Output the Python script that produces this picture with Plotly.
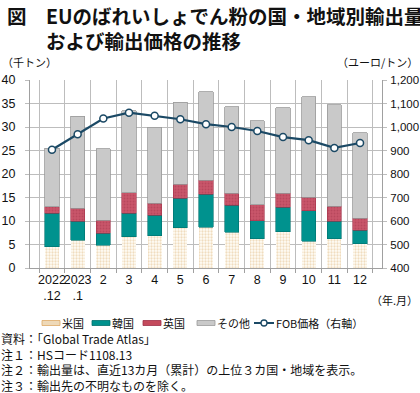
import plotly.graph_objects as go

categories = ["2022<br>.12", "2023<br>.1", "2", "3", "4", "5", "6", "7", "8", "9", "10", "11", "12"]
us = [4.5, 5.9, 4.8, 6.6, 6.9, 8.6, 8.7, 7.6, 6.2, 7.7, 5.7, 6.2, 5.2]
korea = [7.2, 4.0, 2.6, 5.0, 4.3, 6.2, 7.0, 5.8, 3.9, 5.2, 6.5, 3.8, 2.8]
uk = [1.3, 2.8, 2.8, 4.4, 2.6, 3.0, 3.0, 2.5, 3.4, 3.0, 2.9, 3.1, 2.6]
other = [12.5, 19.6, 15.2, 17.5, 16.2, 17.5, 18.8, 18.4, 17.8, 18.2, 21.3, 21.6, 18.2]
fob = [903, 969, 1036, 1061, 1048, 1033, 1012, 1000, 983, 957, 944, 911, 932]

title_lines = ["図　EUのばれいしょでん粉の国・地域別輸出量", "　　および輸出価格の推移"]
footnotes = [
    "資料：「Global Trade Atlas」",
    "注１：HSコード1108.13",
    "注２：輸出量は、直近13カ月（累計）の上位３カ国・地域を表示。",
    "注３：輸出先の不明なものを除く。",
]

FONT = "Liberation Sans, Noto Sans CJK JP, Arial, sans-serif"
JFONT = "Noto Sans CJK JP, Liberation Sans, sans-serif"

W, H = 420, 393
L, R, T, B = 30, 38, 80, 125
GRID = "#BDBDBD"

fig = go.Figure()
fig.add_trace(go.Bar(x=categories, y=us, name="米国",
                     marker=dict(color="white", line=dict(width=0),
                                 pattern=dict(shape=".", fgcolor="#E2BC86", bgcolor="#FFFDF8",
                                              size=3, solidity=0.45))))
fig.add_trace(go.Bar(x=categories, y=korea, name="韓国",
                     marker=dict(color="#00928E", line=dict(color="#00706C", width=0.6))))
fig.add_trace(go.Bar(x=categories, y=uk, name="英国",
                     marker=dict(color="#C44A5C", line=dict(color="#A03048", width=0.6),
                                 pattern=dict(shape=".", fgcolor="#A83A50", bgcolor="#C9566A",
                                              size=3, solidity=0.3))))
fig.add_trace(go.Bar(x=categories, y=other, name="その他",
                     marker=dict(color="#C9C9C9", line=dict(color="#9A9A9A", width=0.8))))
fig.add_trace(go.Scatter(x=categories, y=fob, name="FOB価格（右軸）", yaxis="y2",
                         mode="lines+markers",
                         line=dict(color="#1B4965", width=2.2),
                         marker=dict(symbol="circle", size=7, color="white",
                                     line=dict(color="#1B4965", width=1.5))))

fig.update_layout(
    width=W, height=H,
    margin=dict(l=L, r=R, t=T, b=B, pad=0, autoexpand=False),
    paper_bgcolor="white", plot_bgcolor="white",
    barmode="stack", bargap=0.45,
    showlegend=False,
    font=dict(family=FONT, size=12, color="#222222"),
    xaxis=dict(type="category", tickson="boundaries", showgrid=True, gridcolor=GRID,
               gridwidth=1, showline=True, linecolor="#A0A0A0", ticks="outside",
               ticklen=4, tickcolor="#A0A0A0", tickfont=dict(size=12.5, color="#111111"),
               tickangle=0, fixedrange=True, automargin=False),
    yaxis=dict(range=[0, 40], dtick=5, showgrid=True, gridcolor=GRID, gridwidth=1,
               showline=True, linecolor="#A0A0A0", ticks="outside", ticklen=4,
               tickcolor=GRID, tickfont=dict(size=12.5, color="#111111"),
               ticklabelstandoff=7,
               zeroline=False, fixedrange=True, automargin=False),
    yaxis2=dict(range=[400, 1200], dtick=100, overlaying="y", side="right",
                showgrid=False, showline=True, linecolor="#A0A0A0", ticks="outside",
                ticklen=4, tickcolor=GRID, tickformat=",", ticklabelstandoff=1,
                tickfont=dict(size=11.5, color="#111111"), zeroline=False, fixedrange=True,
                automargin=False),
)

def px_x(x):
    return (x - L) / (W - L - R)

def px_y(y):
    return (H - B - y) / (H - T - B)

ann = []
def text(x, y, s, size=12, xanchor="left", yanchor="middle", font=JFONT, color="#111111"):
    ann.append(dict(x=px_x(x), y=px_y(y), xref="paper", yref="paper", text=s,
                    showarrow=False, xanchor=xanchor, yanchor=yanchor, align="left",
                    borderpad=0, font=dict(family=font, size=size, color=color)))

# Title (one two-line block)
text(6, 28.5, "<br>".join("<b>" + t + "</b>" for t in title_lines), size=19.5)
# units
text(1, 62, "（千トン）", size=11)
text(419, 62, "（ユーロ/トン）", size=11, xanchor="right")
text(419, 300, "（年.月）", size=11, xanchor="right")
# footnotes (one multi-line block)
text(0, 362, "<br>".join(footnotes), size=12)

# legend (manual)
shapes = []
LY = 323
def swatch(x0, x1, fill, line):
    shapes.append(dict(type="rect", xref="paper", yref="paper",
                       x0=px_x(x0), x1=px_x(x1), y0=px_y(LY + 2.5), y1=px_y(LY - 2.5),
                       fillcolor=fill, line=dict(color=line, width=0.8), layer="above"))

swatch(42, 60, "#EED9B8", "#DDAA66")
text(61, LY, "米国", size=11)
swatch(92, 110, "#00928E", "#00706C")
text(111, LY, "韓国", size=11)
swatch(143, 161, "#C44A5C", "#A03048")
text(162, LY, "英国", size=11)
swatch(197, 215, "#C9C9C9", "#9A9A9A")
text(216, LY, "その他", size=11)
shapes.append(dict(type="line", xref="paper", yref="paper", x0=px_x(254), x1=px_x(274),
                   y0=px_y(LY), y1=px_y(LY), line=dict(color="#1B4965", width=2), layer="above"))
shapes.append(dict(type="circle", xref="paper", yref="paper", x0=px_x(261), x1=px_x(267),
                   y0=px_y(LY + 3), y1=px_y(LY - 3), fillcolor="white",
                   line=dict(color="#1B4965", width=1.3), layer="above"))
text(275, LY, "FOB価格（右軸）", size=11)

fig.update_layout(annotations=ann, shapes=shapes)
fig.write_html("out.html", config={"displayModeBar": False},
               post_script="document.body.style.margin='0';document.body.style.overflow='hidden';")
